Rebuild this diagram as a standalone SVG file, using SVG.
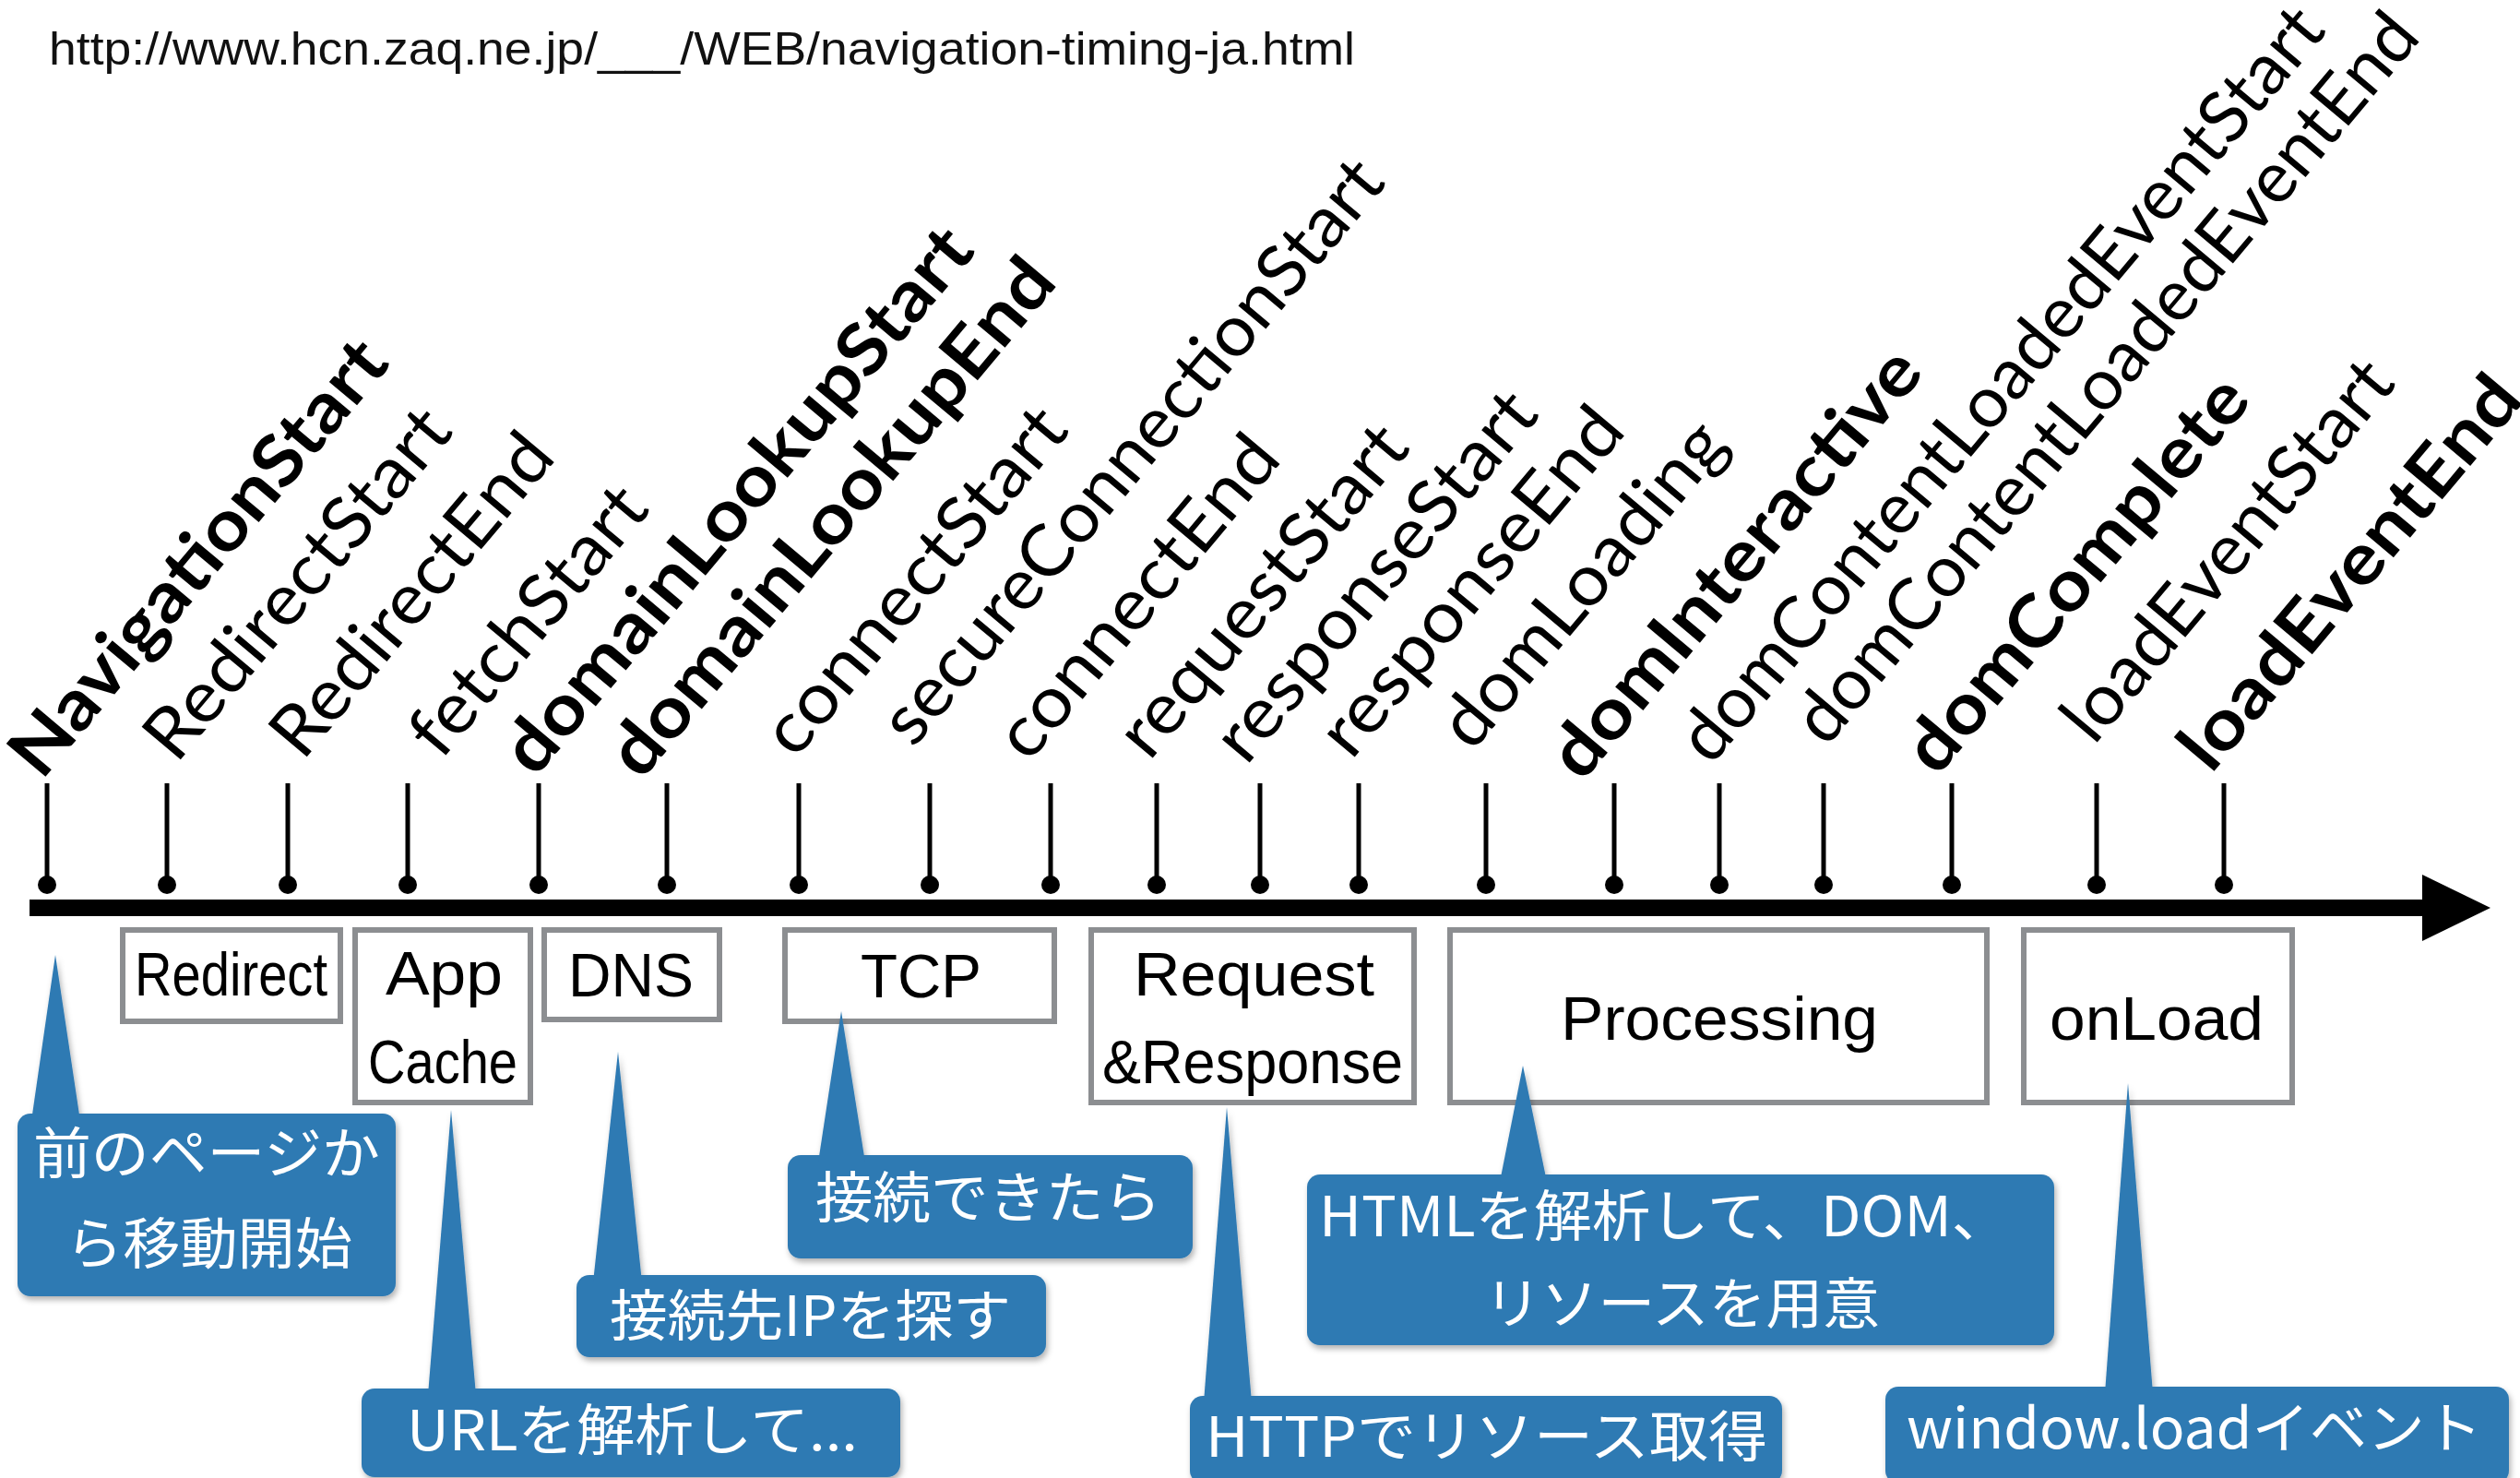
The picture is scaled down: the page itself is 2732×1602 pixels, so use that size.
<svg xmlns="http://www.w3.org/2000/svg" width="2732" height="1602" viewBox="0 0 2732 1602">
<defs>
<style>
.lbl{font-family:Lato,"Open Sans","DejaVu Sans",sans-serif;font-size:77px;fill:#000}
.b{font-weight:700}
.box{fill:#fff;stroke:#8c8e91;stroke-width:6}
.bt{font-family:"Liberation Sans",Arial,sans-serif;font-size:67px;fill:#000;text-anchor:start}
.co{fill:#2f7ab3}
.ct{font-family:"Noto Sans CJK JP","Liberation Sans",sans-serif;font-size:60px;fill:#fff}
.tick{stroke:#000;stroke-width:5}
.url{font-family:"Liberation Sans",Arial,sans-serif;font-size:50px;fill:#111}
</style>
<filter id="sh" x="-5%" y="-5%" width="110%" height="120%">
<feDropShadow dx="2" dy="4" stdDeviation="3" flood-color="#000" flood-opacity="0.3"/>
</filter>
</defs>
<rect width="2732" height="1602" fill="#fff"/>
<text class="url" x="53" y="70" textLength="1416" lengthAdjust="spacingAndGlyphs">http://www.hcn.zaq.ne.jp/___/WEB/navigation-timing-ja.html</text>

<g id="connectors">
<rect x="32" y="975" width="2600" height="18" fill="#000"/>
<polygon points="2626,948 2700,984 2626,1020" fill="#000"/>
</g>

<g id="events">
<g id="ev-navigationStart"><line class="tick" x1="51" y1="849" x2="51" y2="959"/><circle cx="51" cy="959" r="10"/><text class="lbl b" transform="translate(45,847) rotate(-50)" textLength="590" lengthAdjust="spacingAndGlyphs">NavigationStart</text></g>
<g id="ev-redirectStart"><line class="tick" x1="181" y1="849" x2="181" y2="959"/><circle cx="181" cy="959" r="10"/><text class="lbl" transform="translate(191,829) rotate(-50)" textLength="470" lengthAdjust="spacingAndGlyphs">RedirectStart</text></g>
<g id="ev-redirectEnd"><line class="tick" x1="312" y1="849" x2="312" y2="959"/><circle cx="312" cy="959" r="10"/><text class="lbl" transform="translate(328,826) rotate(-50)" textLength="430" lengthAdjust="spacingAndGlyphs">RedirectEnd</text></g>
<g id="ev-fetchStart"><line class="tick" x1="442" y1="849" x2="442" y2="959"/><circle cx="442" cy="959" r="10"/><text class="lbl" transform="translate(478,825) rotate(-50)" textLength="355" lengthAdjust="spacingAndGlyphs">fetchStart</text></g>
<g id="ev-domainLookupStart"><line class="tick" x1="584" y1="849" x2="584" y2="959"/><circle cx="584" cy="959" r="10"/><text class="lbl b" transform="translate(580,844) rotate(-50)" textLength="745" lengthAdjust="spacingAndGlyphs">domainLookupStart</text></g>
<g id="ev-domainLookupEnd"><line class="tick" x1="723" y1="849" x2="723" y2="959"/><circle cx="723" cy="959" r="10"/><text class="lbl b" transform="translate(695,847) rotate(-50)" textLength="705" lengthAdjust="spacingAndGlyphs">domainLookupEnd</text></g>
<g id="ev-connectStart"><line class="tick" x1="866" y1="849" x2="866" y2="959"/><circle cx="866" cy="959" r="10"/><text class="lbl" transform="translate(862,824) rotate(-50)" textLength="465" lengthAdjust="spacingAndGlyphs">connectStart</text></g>
<g id="ev-secureConnectionStart"><line class="tick" x1="1008" y1="849" x2="1008" y2="959"/><circle cx="1008" cy="959" r="10"/><text class="lbl" transform="translate(990,812) rotate(-50)" textLength="800" lengthAdjust="spacingAndGlyphs">secureConnectionStart</text></g>
<g id="ev-connectEnd"><line class="tick" x1="1139" y1="849" x2="1139" y2="959"/><circle cx="1139" cy="959" r="10"/><text class="lbl" transform="translate(1115,828) rotate(-50)" textLength="430" lengthAdjust="spacingAndGlyphs">connectEnd</text></g>
<g id="ev-requestStart"><line class="tick" x1="1254" y1="849" x2="1254" y2="959"/><circle cx="1254" cy="959" r="10"/><text class="lbl" transform="translate(1246,826) rotate(-50)" textLength="443" lengthAdjust="spacingAndGlyphs">requestStart</text></g>
<g id="ev-responseStart"><line class="tick" x1="1366" y1="849" x2="1366" y2="959"/><circle cx="1366" cy="959" r="10"/><text class="lbl" transform="translate(1351,831) rotate(-50)" textLength="497" lengthAdjust="spacingAndGlyphs">responseStart</text></g>
<g id="ev-responseEnd"><line class="tick" x1="1473" y1="849" x2="1473" y2="959"/><circle cx="1473" cy="959" r="10"/><text class="lbl" transform="translate(1465,825) rotate(-50)" textLength="466" lengthAdjust="spacingAndGlyphs">responseEnd</text></g>
<g id="ev-domLoading"><line class="tick" x1="1611" y1="849" x2="1611" y2="959"/><circle cx="1611" cy="959" r="10"/><text class="lbl" transform="translate(1596,816) rotate(-50)" textLength="435" lengthAdjust="spacingAndGlyphs">domLoading</text></g>
<g id="ev-domInteractive"><line class="tick" x1="1750" y1="849" x2="1750" y2="959"/><circle cx="1750" cy="959" r="10"/><text class="lbl b" transform="translate(1715,849) rotate(-50)" textLength="580" lengthAdjust="spacingAndGlyphs">domInteractive</text></g>
<g id="ev-domContentLoadedEventStart"><line class="tick" x1="1864" y1="849" x2="1864" y2="959"/><circle cx="1864" cy="959" r="10"/><text class="lbl" transform="translate(1855,831) rotate(-50)" textLength="1040" lengthAdjust="spacingAndGlyphs">domContentLoadedEventStart</text></g>
<g id="ev-domContentLoadedEventEnd"><line class="tick" x1="1977" y1="849" x2="1977" y2="959"/><circle cx="1977" cy="959" r="10"/><text class="lbl" transform="translate(1980,811) rotate(-50)" textLength="1005" lengthAdjust="spacingAndGlyphs">domContentLoadedEventEnd</text></g>
<g id="ev-domComplete"><line class="tick" x1="2116" y1="849" x2="2116" y2="959"/><circle cx="2116" cy="959" r="10"/><text class="lbl b" transform="translate(2100,843) rotate(-50)" textLength="533" lengthAdjust="spacingAndGlyphs">domComplete</text></g>
<g id="ev-loadEventStart"><line class="tick" x1="2273" y1="849" x2="2273" y2="959"/><circle cx="2273" cy="959" r="10"/><text class="lbl" transform="translate(2270,809) rotate(-50)" textLength="512" lengthAdjust="spacingAndGlyphs">loadEventStart</text></g>
<g id="ev-loadEventEnd"><line class="tick" x1="2411" y1="849" x2="2411" y2="959"/><circle cx="2411" cy="959" r="10"/><text class="lbl b" transform="translate(2397,840) rotate(-50)" textLength="530" lengthAdjust="spacingAndGlyphs">loadEventEnd</text></g>
</g>

<g id="phases">
<g id="ph-redirect"><rect class="box" x="133" y="1008" width="236" height="99"/><text class="bt" x="146" y="1079" font-size="57" textLength="209" lengthAdjust="spacingAndGlyphs">Redirect</text></g>
<g id="ph-appcache"><rect class="box" x="385" y="1008" width="190" height="187"/><text class="bt" x="418" y="1078" textLength="127" lengthAdjust="spacingAndGlyphs">App</text><text class="bt" x="399" y="1174" textLength="162" lengthAdjust="spacingAndGlyphs">Cache</text></g>
<g id="ph-dns"><rect class="box" x="590" y="1008" width="190" height="97"/><text class="bt" x="616" y="1080" textLength="136" lengthAdjust="spacingAndGlyphs">DNS</text></g>
<g id="ph-tcp"><rect class="box" x="851" y="1008" width="292" height="99"/><text class="bt" x="933" y="1081" textLength="131" lengthAdjust="spacingAndGlyphs">TCP</text></g>
<g id="ph-reqres"><rect class="box" x="1183" y="1008" width="350" height="187"/><text class="bt" x="1229" y="1079" textLength="261" lengthAdjust="spacingAndGlyphs">Request</text><text class="bt" x="1195" y="1174" textLength="326" lengthAdjust="spacingAndGlyphs">&amp;Response</text></g>
<g id="ph-processing"><rect class="box" x="1572" y="1008" width="582" height="187"/><text class="bt" x="1692" y="1127" textLength="344" lengthAdjust="spacingAndGlyphs">Processing</text></g>
<g id="ph-onload"><rect class="box" x="2194" y="1008" width="291" height="187"/><text class="bt" x="2222" y="1127" textLength="232" lengthAdjust="spacingAndGlyphs">onLoad</text></g>
</g>

<g id="callouts">
<g id="co-nav" filter="url(#sh)"><rect class="co" x="19" y="1207" width="410" height="198" rx="14"/><polygon class="co" points="60,1035 87,1215 34,1215"/><text class="ct" x="36" y="1272" textLength="376" lengthAdjust="spacingAndGlyphs">前のページか</text><text class="ct" x="71" y="1370" textLength="311" lengthAdjust="spacingAndGlyphs">ら移動開始</text></g>
<g id="co-url" filter="url(#sh)"><rect class="co" x="392" y="1505" width="584" height="96" rx="14"/><polygon class="co" points="489,1203 516,1512 464,1512"/><text class="ct" x="441" y="1572" textLength="489" lengthAdjust="spacingAndGlyphs">URLを解析して...</text></g>
<g id="co-dns" filter="url(#sh)"><rect class="co" x="625" y="1382" width="509" height="89" rx="14"/><polygon class="co" points="670,1140 696,1390 643,1390"/><text class="ct" x="661" y="1448" textLength="435" lengthAdjust="spacingAndGlyphs">接続先IPを探す</text></g>
<g id="co-tcp" filter="url(#sh)"><rect class="co" x="854" y="1252" width="439" height="112" rx="14"/><polygon class="co" points="912,1096 938,1260 887,1260"/><text class="ct" x="884" y="1320" textLength="375" lengthAdjust="spacingAndGlyphs">接続できたら</text></g>
<g id="co-http" filter="url(#sh)"><rect class="co" x="1290" y="1513" width="642" height="95" rx="14"/><polygon class="co" points="1330,1200 1357,1520 1305,1520"/><text class="ct" x="1307" y="1579" textLength="609" lengthAdjust="spacingAndGlyphs">HTTPでリソース取得</text></g>
<g id="co-proc" filter="url(#sh)"><rect class="co" x="1417" y="1273" width="810" height="185" rx="14"/><polygon class="co" points="1651,1155 1677,1281 1626,1281"/><text class="ct" x="1430" y="1340" textLength="749" lengthAdjust="spacingAndGlyphs">HTMLを解析して、DOM、</text><text class="ct" x="1609" y="1435" textLength="429" lengthAdjust="spacingAndGlyphs">リソースを用意</text></g>
<g id="co-load" filter="url(#sh)"><rect class="co" x="2044" y="1503" width="676" height="105" rx="14"/><polygon class="co" points="2307,1174 2334,1510 2282,1510"/><text class="ct" x="2067" y="1570" textLength="624" lengthAdjust="spacingAndGlyphs">window.loadイベント</text></g>
</g>
</svg>
